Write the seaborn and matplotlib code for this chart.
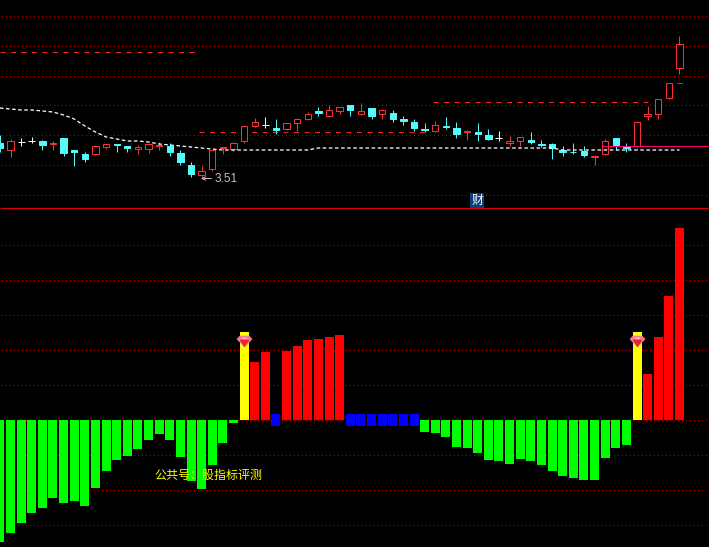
import pandas as pd
import seaborn as sns
import matplotlib
matplotlib.use("Agg")
import matplotlib.pyplot as plt

# daily candles
opens = [3.85, 3.77, 3.86, 3.87, 3.87, 3.83, 3.90, 3.78, 3.74, 3.73, 3.80, 3.84, 3.82,
         3.78, 3.78, 3.81, 3.82, 3.75, 3.63, 3.52, 3.58, 3.79, 3.78, 3.86, 4.01, 4.03,
         4.00, 3.98, 4.04, 4.08, 4.17, 4.11, 4.16, 4.23, 4.13, 4.20, 4.13, 4.15, 4.09,
         4.06, 3.99, 3.96, 4.02, 4.00, 3.95, 3.96, 3.93, 3.90, 3.84, 3.86, 3.88, 3.84,
         3.84, 3.78, 3.76, 3.77, 3.70, 3.73, 3.90, 3.81, 3.81, 4.11, 4.13, 4.29, 4.59]
closes = [3.79, 3.87, 3.86, 3.87, 3.82, 3.85, 3.74, 3.75, 3.68, 3.82, 3.84, 3.82, 3.79,
          3.81, 3.84, 3.83, 3.75, 3.65, 3.53, 3.57, 3.78, 3.81, 3.85, 4.02, 4.06, 4.03,
          3.97, 4.05, 4.09, 4.14, 4.14, 4.18, 4.21, 4.17, 4.17, 4.11, 4.18, 4.08, 4.06,
          3.99, 3.97, 4.03, 4.00, 3.93, 3.97, 3.93, 3.88, 3.90, 3.87, 3.91, 3.85, 3.82,
          3.79, 3.75, 3.75, 3.72, 3.72, 3.87, 3.82, 3.79, 4.06, 4.14, 4.29, 4.45, 4.84]
highs = [3.93, 3.89, 3.90, 3.91, 3.88, 3.87, 3.90, 3.78, 3.76, 3.83, 3.84, 3.84, 3.82,
         3.83, 3.84, 3.86, 3.85, 3.78, 3.66, 3.62, 3.78, 3.81, 3.86, 4.02, 4.10, 4.11,
         4.09, 4.05, 4.10, 4.16, 4.21, 4.23, 4.21, 4.23, 4.25, 4.20, 4.19, 4.18, 4.12,
         4.09, 4.05, 4.07, 4.11, 4.06, 3.98, 4.05, 3.99, 3.97, 3.92, 3.91, 3.96, 3.88,
         3.85, 3.82, 3.85, 3.82, 3.73, 3.89, 3.90, 3.85, 4.07, 4.22, 4.29, 4.45, 4.92]
lows = [3.76, 3.71, 3.82, 3.85, 3.78, 3.78, 3.72, 3.62, 3.66, 3.73, 3.79, 3.76, 3.76,
        3.74, 3.75, 3.78, 3.72, 3.63, 3.51, 3.51, 3.57, 3.74, 3.77, 3.85, 4.01, 4.00,
        3.94, 3.98, 3.97, 4.08, 4.12, 4.11, 4.14, 4.12, 4.13, 4.09, 4.09, 4.06, 4.03,
        3.97, 3.96, 3.96, 3.99, 3.90, 3.88, 3.87, 3.88, 3.87, 3.82, 3.82, 3.84, 3.81,
        3.69, 3.72, 3.74, 3.71, 3.63, 3.73, 3.78, 3.76, 3.81, 4.08, 4.09, 4.29, 4.54]
ma_line = [4.20, 4.19, 4.18, 4.18, 4.17, 4.16, 4.13, 4.09, 4.02, 3.96, 3.91, 3.89, 3.87,
           3.87, 3.86, 3.84, 3.83, 3.82, 3.81, 3.80, 3.79, 3.78, 3.78, 3.78, 3.78, 3.78,
           3.78, 3.78, 3.78, 3.78, 3.80, 3.80, 3.80, 3.80, 3.80, 3.80, 3.80, 3.80, 3.80,
           3.80, 3.80, 3.80, 3.80, 3.80, 3.80, 3.80, 3.80, 3.80, 3.80, 3.80, 3.80, 3.80,
           3.80, 3.78, 3.78, 3.78, 3.78, 3.78, 3.78, 3.78, 3.78, 3.78, 3.78, 3.78, 3.78]

# red dashed levels: price, first candle, last candle
level_price = [4.757, 3.957, 4.257, 4.447]
level_start = [0.0, 18.75, 40.8, 63.75]
level_end = [18.4, 40.2, 61.3, 64.25]
price_grid = [5.117, 4.817, 4.517, 4.227, 3.927, 3.627, 3.327]
flat_price = 3.817
divider_price = 3.197

# oscillator
osc_values = [-122, -113, -103, -93, -88, -78, -83, -81, -86, -68, -51, -40, -36, -29, -20,
              -14, -20, -37, -61, -69, -45, -23, -3, 88, 58, 68, 6, 69, 74, 80, 81, 83, 85,
              6, 6, 6, 6, 6, 6, 6, -12, -13, -17, -27, -28, -33, -40, -41, -44, -39, -41,
              -45, -51, -56, -58, -60, -60, -38, -28, -25, 88, 46, 83, 124, 192]
blue_idx = [26, 33, 34, 35, 36, 37, 38, 39]
blue_low = [-6, -6, -6, -6, -6, -6, -6, -6]
signal_idx = [23, 60]
signal_gem = [79, 79]
osc_grid = [174.7, 139.7, 104.7, 69.7, 34.7, -0.3, -35.3, -70.3, -105.3]

RED = "#FF3232"
CYAN = "#54FCFC"
GRID = "#C00000"
px = 0.71  # just under one pixel at dpi 100, so snapping lands on a single row
# dash patterns in points (scale_dashes off below), 0.72 pt is one pixel
DOTS = (1.8, (0.72, 2.16))
LEVEL_DASH = (0, (3.6, 3.96))
MA_DASH = (0, (2.6, 1.8))
X0, X1 = 0.011, 66.78
TICK = 0.01  # one pixel of price, the body's lower edge sits inside the body

sns.set_theme(style="dark", rc={"figure.facecolor": "black", "axes.facecolor": "black",
                                "savefig.facecolor": "black"})
plt.rcParams["lines.scale_dashes"] = False
plt.rcParams["font.family"] = ["Noto Sans CJK SC", "DejaVu Sans"]

fig = plt.figure(figsize=(7.09, 5.47), dpi=100)
ax_k = fig.add_axes([0, 338 / 547, 1, 209 / 547])
ax_b = fig.add_axes([0, 0, 1, 338 / 547])

# price panel
idx = list(range(len(opens)))
ax_k.hlines(price_grid, X0, X1, color=GRID, lw=px, linestyles=[DOTS], zorder=1, snap=True)
ax_k.hlines(level_price, level_start, level_end, color="#FF2020", lw=px,
            linestyles=[LEVEL_DASH], zorder=2, snap=True)

for i in idx:
    o, c = opens[i], closes[i]
    col = RED if c > o else (CYAN if c < o else "white")
    ax_k.vlines(i, lows[i], highs[i], color=col, lw=px, zorder=3, snap=True)
    if c == o:
        ax_k.hlines(o + 0.002, i - 0.33, i + 0.33, color=col, lw=px, zorder=4, snap=True)
    else:
        ax_k.bar(i, abs(c - o) - TICK, bottom=min(o, c) + TICK, width=0.6,
                 facecolor="black" if c > o else col, edgecolor=col, linewidth=px,
                 zorder=4, snap=True)

sns.lineplot(x=idx, y=ma_line, color="white", linewidth=0.9, linestyle=MA_DASH, ax=ax_k, zorder=5)
ax_k.hlines(flat_price, 56.7, X1, color="#FF0080", lw=px, zorder=6, snap=True)
ax_k.hlines(divider_price, X0, X1, color="#E00000", lw=px, zorder=6, snap=True)

ax_k.annotate("3.51", xy=(18.94, 3.495), xytext=(20.25, 3.495), color="#C0C0C0", fontsize=8.6,
              family="Liberation Sans", va="center", ha="left",
              arrowprops=dict(arrowstyle="->", color="#C0C0C0", lw=px, shrinkA=0, shrinkB=0,
                              mutation_scale=6, relpos=(0, 0.5)), zorder=7)
ax_k.text(44.94, 3.275, "财", color="white", fontsize=8.6, ha="center", va="center", zorder=7,
          bbox=dict(facecolor="#0A3F78", edgecolor="none", pad=0.8))

ax_k.set_xlim(X0, X1)
ax_k.set_ylim(3.19, 5.28)
ax_k.axis("off")

# oscillator panel
osc = pd.DataFrame({"i": idx, "value": osc_values})
osc["kind"] = ["green" if v < 0 else "red" for v in osc_values]
osc.loc[osc["i"].isin(blue_idx), "kind"] = "blue"
osc.loc[osc["i"].isin(signal_idx), "kind"] = "yellow"

ax_b.hlines(osc_grid, X0, X1, color=GRID, lw=px, linestyles=[DOTS], zorder=1, snap=True)
sns.barplot(data=osc, x="i", y="value", hue="kind", native_scale=True, dodge=False, width=0.8475,
            palette={"green": "#00FF00", "red": "#FF0000", "blue": "#0000FF", "yellow": "#FFFF00"},
            saturation=1, linewidth=0, legend=False, errorbar=None, zorder=2, antialiased=False,
            ax=ax_b)
sns.barplot(x=blue_idx, y=blue_low, color="#0000FF", native_scale=True, width=0.8475,
            saturation=1, linewidth=0, errorbar=None, zorder=2, antialiased=False, ax=ax_b)


def gem_marker(verts, size):
    # custom markers get normalised to their largest coordinate, so put that back in s
    return dict(marker=verts, s=(size * max(abs(v) for p in verts for v in p)) ** 2)


gem_size = 11.5
gem_layers = [
    ("#F27C88", [(-1, 0.3), (-0.6, 0.72), (0.6, 0.72), (1, 0.3), (0, -0.75)]),
    ("#E8203C", [(-0.62, 0.22), (0.62, 0.22), (0, -0.72)]),
    ("#FFB8B8", [(-0.4, 0.5), (0.4, 0.5), (0.22, 0.3), (-0.22, 0.3)]),
]
for col, verts in gem_layers:
    ax_b.scatter(signal_idx, signal_gem, color=col, linewidths=0, zorder=4,
                 **gem_marker(verts, gem_size))

ax_b.text(14.51, -55, "公共号：股指标评测", color="#FFFF00", fontsize=8.64, ha="left", va="center",
          zorder=5)

ax_b.set_xlim(X0, X1)
ax_b.set_ylim(-127, 211)
ax_b.axis("off")

fig.savefig("out.png", dpi=100, facecolor="black")
